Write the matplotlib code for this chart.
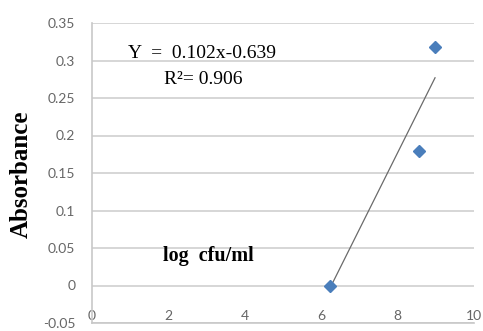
import matplotlib
matplotlib.use("Agg")
import matplotlib.pyplot as plt
import numpy as np

# data
x_vals = [6.24, 8.56, 8.98]
y_vals = [0.0, 0.18, 0.318]
slope, intercept = 0.102, -0.639
eq_text = "Y  =  0.102x-0.639"
r2_text = "R\u00b2= 0.906"
x_ticks = [0, 2, 4, 6, 8, 10]
y_ticks = [-0.05, 0, 0.05, 0.1, 0.15, 0.2, 0.25, 0.3, 0.35]
y_tick_labels = ["-0.05", "0", "0.05", "0.1", "0.15", "0.2", "0.25", "0.3", "0.35"]

fig = plt.figure(figsize=(4.83, 3.31), dpi=100)
ax = fig.add_axes([92/483, 1-323/331, (474-92)/483, (323-23)/331])

ax.set_xlim(0, 10)
ax.set_ylim(-0.05, 0.35)
ax.set_yticks(y_ticks)
ax.set_yticklabels(y_tick_labels)
ax.set_xticks(x_ticks)
ax.set_xticklabels([str(t) for t in x_ticks])
ax.grid(axis='y', color='#d0d0d0', linewidth=1.2)
ax.set_axisbelow(True)
for s in ['top', 'right']:
    ax.spines[s].set_visible(False)
for s in ['left', 'bottom']:
    ax.spines[s].set_color('#c8c8c8')
    ax.spines[s].set_linewidth(1.2)
ax.tick_params(axis='both', length=0, labelsize=10, labelcolor='#666666')
ax.tick_params(axis='y', pad=12)
ax.tick_params(axis='x', pad=-9)
for lbl in ax.get_xticklabels() + ax.get_yticklabels():
    lbl.set_family('Lato')

# trendline
xs = np.array([min(x_vals), max(x_vals)])
ax.plot(xs, slope*xs + intercept, color='#6a6a6a', linewidth=0.9, zorder=3)
ax.plot(x_vals, y_vals, linestyle='none', marker='D', markersize=6,
        color='#4a7ebb', zorder=4)

fig.text(202/483, 1-53.5/331, eq_text, family='Liberation Serif', fontsize=14,
         ha='center', va='center', color='black')
fig.text(203/483, 1-80/331, r2_text, family='Liberation Serif', fontsize=14,
         ha='center', va='center', color='black')
fig.text(208/483, 1-256/331, "log  cfu/ml", family='Liberation Serif', fontsize=14.5,
         fontweight='bold', ha='center', va='center')
fig.text(21/483, 1-174/331, "Absorbance", family='Liberation Serif', fontsize=18,
         fontweight='bold', ha='center', va='center', rotation=90)

fig.savefig("out.png", dpi=100)
